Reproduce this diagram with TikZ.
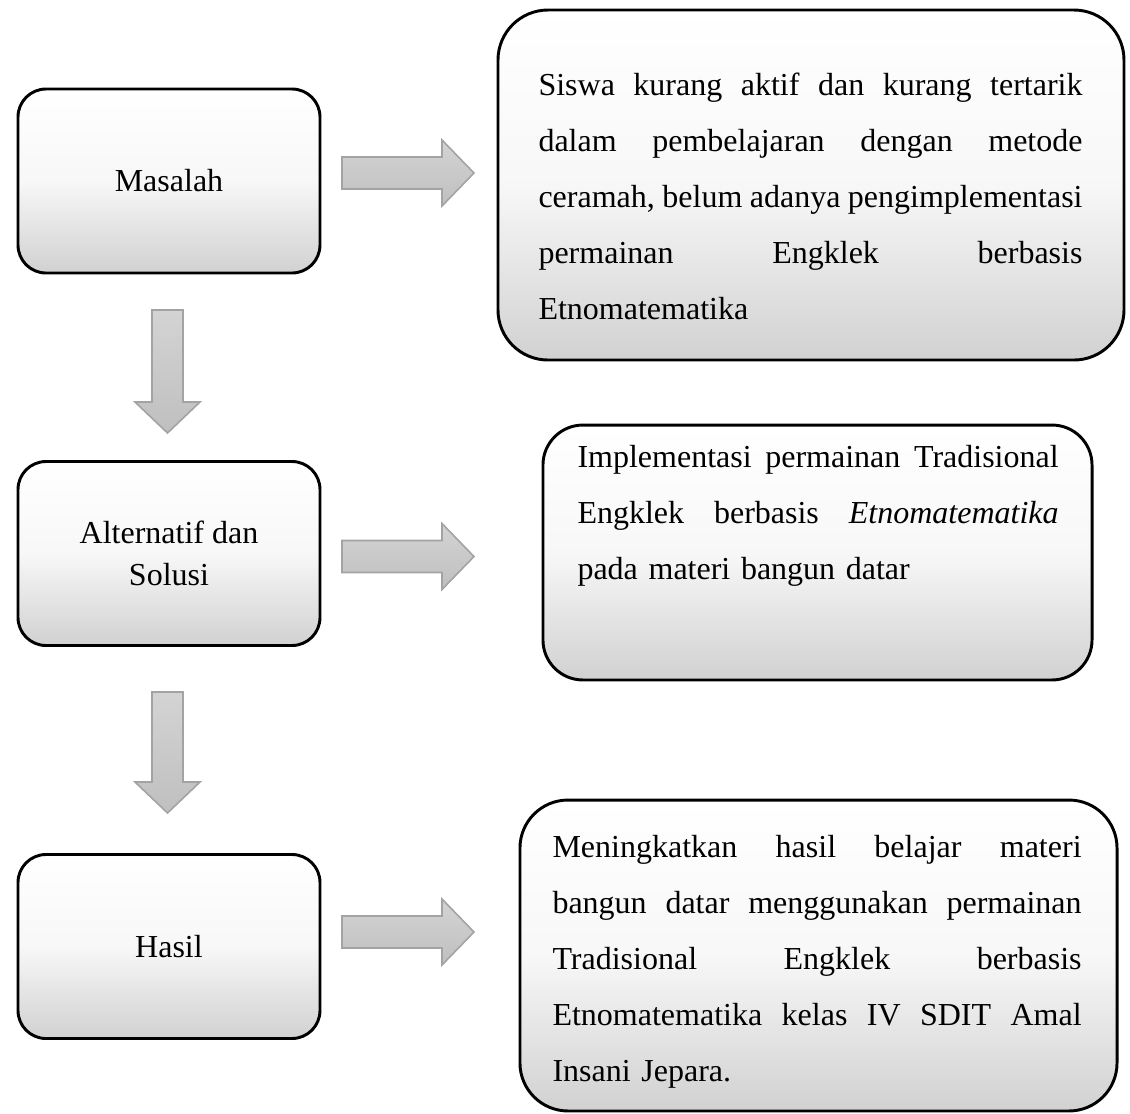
\documentclass[tikz,border=0pt]{standalone}
\usepackage{fontspec}
\setmainfont{Liberation Serif}
\newcommand\jl[2]{\leavevmode\hbox to #1{\spaceskip=\fontdimen2\font plus 1fil minus 0.15em\relax #2}}
\begin{document}
\begin{tikzpicture}[x=0.375pt,y=-0.375pt,
  lbox/.style={draw=black, line width=1.1pt, rounded corners=10.5pt,
    minimum width=113.25pt, minimum height=69pt, inner sep=0pt,
    top color=white, bottom color=black!18, middle color=white!97!black,
    align=center, font=\fontsize{12pt}{15.75pt}\selectfont},
  rbox/.style={draw=black, line width=1.1pt, inner sep=0pt,
    top color=white, bottom color=black!18, middle color=white!97!black},
  txt/.style={anchor=base west, inner sep=0pt, align=left,
    font=\fontsize{12pt}{21pt}\selectfont},
  blockarrow/.style={draw=black!36, line width=0.6pt,
    top color=black!17, bottom color=black!25}]
\useasboundingbox (0,0) rectangle (1130,1113);

% left boxes
\node[lbox] (m) at (169,181) {Masalah};
\node[lbox] (a) at (169,553.5) {Alternatif dan\\Solusi};
\node[lbox] (h) at (169,946.5) {Hasil};

% right boxes
\node[rbox, minimum width=234.75pt, minimum height=131.25pt, rounded corners=18.75pt] (p1) at (811,185) {};
\node[rbox, minimum width=205.9pt, minimum height=95.6pt, rounded corners=15pt] (p2) at (817.5,552.5) {};
\node[rbox, minimum width=223.9pt, minimum height=116.6pt, rounded corners=18pt] (p3) at (818.5,955.5) {};

% texts
\node[txt, text width=204pt] (t1) at (538,95) {%
\jl{204pt}{Siswa kurang aktif dan kurang tertarik}\\
\jl{204pt}{dalam pembelajaran dengan metode}\\
\jl{204pt}{ceramah, belum adanya pengimplementasi}\\
\jl{204pt}{permainan Engklek berbasis}\\
Etnomatematika};
\node[txt, text width=180.4pt] (t2) at (577,467) {%
\jl{180.4pt}{Implementasi permainan Tradisional}\\
\jl{180.4pt}{Engklek berbasis \textit{Etnomatematika}}\\
pada materi bangun datar};
\node[txt, text width=198.4pt] (t3) at (552,857) {%
\jl{198.4pt}{Meningkatkan hasil belajar materi}\\
\jl{198.4pt}{bangun datar menggunakan permainan}\\
\jl{198.4pt}{Tradisional Engklek berbasis}\\
\jl{198.4pt}{Etnomatematika kelas IV SDIT Amal}\\
Insani Jepara.};

% block arrows
\coordinate (ra1) at (342,173);
\coordinate (ra2) at (342,556.5);
\coordinate (ra3) at (342,932);
\coordinate (da1) at (167.5,310);
\coordinate (da2) at (167.5,692);
\foreach \c in {ra1,ra2,ra3}{
  \path[blockarrow] (\c) ++(0,-16) -- ++(100,0) -- ++(0,-17) -- ++(32,33)
    -- ++(-32,33) -- ++(0,-17) -- ++(-100,0) -- cycle;
}
\path[blockarrow] (da1) ++(-15.5,0) -- ++(31,0) -- ++(0,92) -- ++(17,0)
  -- ++(-32.5,31) -- ++(-32.5,-31) -- ++(17,0) -- cycle;
\path[blockarrow] (da2) ++(-15.5,0) -- ++(31,0) -- ++(0,90) -- ++(17,0)
  -- ++(-32.5,31) -- ++(-32.5,-31) -- ++(17,0) -- cycle;
\end{tikzpicture}
\end{document}
